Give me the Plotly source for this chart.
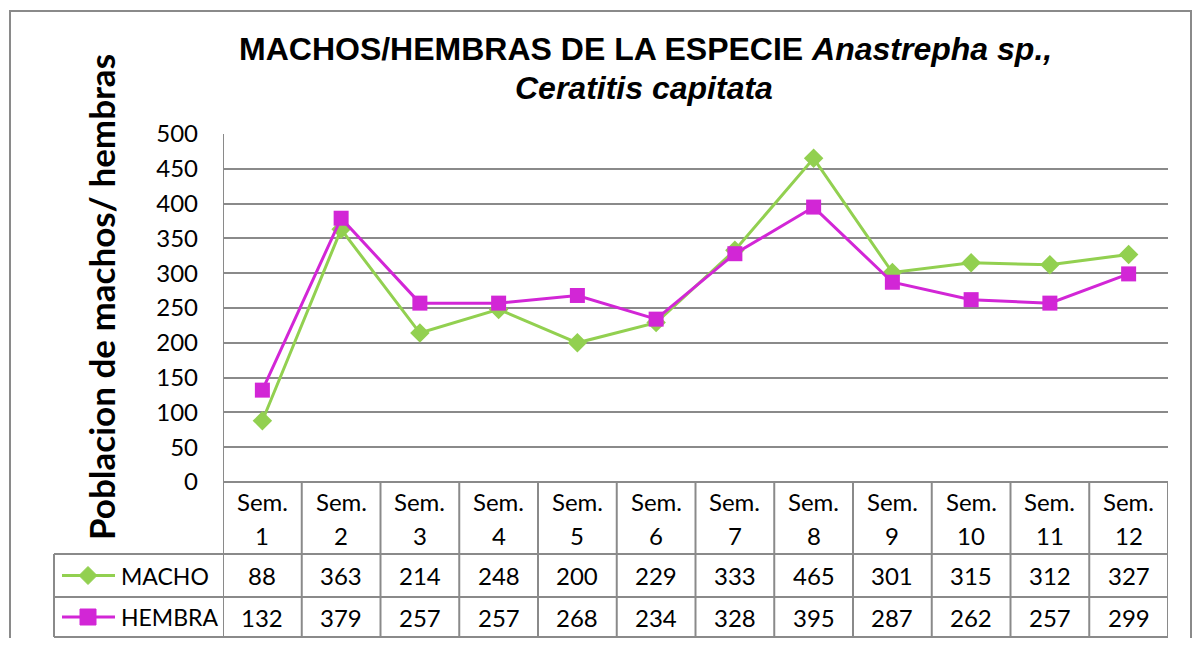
import plotly.graph_objects as go

semanas = ["Sem.<br>1", "Sem.<br>2", "Sem.<br>3", "Sem.<br>4", "Sem.<br>5", "Sem.<br>6",
           "Sem.<br>7", "Sem.<br>8", "Sem.<br>9", "Sem.<br>10", "Sem.<br>11", "Sem.<br>12"]
macho = [88, 363, 214, 248, 200, 229, 333, 465, 301, 315, 312, 327]
hembra = [132, 379, 257, 257, 268, 234, 328, 395, 287, 262, 257, 299]

# the page has an 8px body margin, so the figure is a bit smaller than the window
OFF = 8
W, H = 1200 - 2 * OFF, 646 - 2 * OFF
VERDE = "#92D050"
MAGENTA = "#D226D6"
GRIS = "#8A8A8A"
CALIBRI = "Lato, Noto Sans, sans-serif"


def px(x):
    return (x - OFF) / W


def py(y):
    return 1 - (y - OFF) / H


# plot area in window pixels
X0, X1, Y0, Y1 = 223, 1168, 134, 482
R1, R2, R3 = 554, 597, 637

fig = go.Figure()
xs = list(range(len(semanas)))
fig.add_trace(go.Scatter(x=xs, y=macho, mode="lines+markers", name="MACHO",
                         line=dict(color=VERDE, width=3),
                         marker=dict(symbol="diamond", size=15, color=VERDE)))
fig.add_trace(go.Scatter(x=xs, y=hembra, mode="lines+markers", name="HEMBRA",
                         line=dict(color=MAGENTA, width=3),
                         marker=dict(symbol="square", size=15, color=MAGENTA)))

shapes = []
ann = []


def hline(y, xa, xb):
    shapes.append(dict(type="line", xref="paper", yref="paper", x0=px(xa), x1=px(xb),
                       y0=py(y), y1=py(y), line=dict(color=GRIS, width=2)))


# table lines
hline(Y1, X0, X1)
for r in (R1, R2, R3):
    hline(r, 54, X1)
shapes.append(dict(type="line", xref="paper", yref="paper", x0=px(54), x1=px(54),
                   y0=py(R1), y1=py(R3), line=dict(color=GRIS, width=2)))
for k in range(len(semanas) + 1):
    shapes.append(dict(type="line", xref="x", yref="paper", x0=k - 0.5, x1=k - 0.5,
                       y0=py(Y1 if k else Y0), y1=py(R3), line=dict(color=GRIS, width=2)))

# outer border
shapes.append(dict(type="rect", xref="paper", yref="paper", x0=px(10), x1=px(1191),
                   y0=py(660), y1=py(11), line=dict(color=GRIS, width=2)))

# table text
fnt = dict(family=CALIBRI, size=24, color="black")
for i, s in enumerate(semanas):
    arriba, abajo = s.split("<br>")
    for texto, yc in ((arriba, 501), (abajo, 535), (str(macho[i]), (R1 + R2) / 2),
                      (str(hembra[i]), (R2 + R3) / 2)):
        ann.append(dict(x=i, y=py(yc), xref="x", yref="paper", text=texto,
                        xanchor="center", yanchor="middle", showarrow=False, font=fnt))

# legend keys in table
for nombre, color, fila, forma in (("MACHO", VERDE, (R1 + R2) / 2, "diamond"),
                                    ("HEMBRA", MAGENTA, (R2 + R3) / 2, "square")):
    shapes.append(dict(type="line", xref="paper", yref="paper", x0=px(62), x1=px(115),
                       y0=py(fila), y1=py(fila), line=dict(color=color, width=3)))
    if forma == "diamond":
        path = (f"M {px(88)},{py(fila - 9)} L {px(97)},{py(fila)} "
                f"L {px(88)},{py(fila + 9)} L {px(79)},{py(fila)} Z")
        shapes.append(dict(type="path", xref="paper", yref="paper", path=path,
                           fillcolor=color, line=dict(color=color, width=1)))
    else:
        shapes.append(dict(type="rect", xref="paper", yref="paper", x0=px(80), x1=px(96),
                           y0=py(fila + 8), y1=py(fila - 8), fillcolor=color,
                           line=dict(color=color, width=1)))
    ann.append(dict(x=px(119), y=py(fila), xref="paper", yref="paper", text=nombre,
                    xanchor="left", yanchor="middle", showarrow=False,
                    font=dict(family=CALIBRI, size=23, color="black")))

# y axis title
ann.append(dict(x=px(101), y=py(297), xref="paper", yref="paper",
                text="<b>Poblacion de machos/ hembras</b>", textangle=-90, showarrow=False,
                xanchor="center", yanchor="middle",
                font=dict(family=CALIBRI, size=35, color="black")))

# chart title, two lines
tfont = dict(family="Liberation Sans, Arial, sans-serif", size=32, color="black")
ann.append(dict(x=px(645), y=py(49), xref="paper", yref="paper",
                text="<b>MACHOS/HEMBRAS DE LA ESPECIE <i>Anastrepha sp.,</i></b>",
                showarrow=False, xanchor="center", yanchor="middle", font=tfont))
ann.append(dict(x=px(644), y=py(88), xref="paper", yref="paper",
                text="<b><i>Ceratitis capitata</i></b>",
                showarrow=False, xanchor="center", yanchor="middle", font=tfont))

fig.update_layout(
    width=W, height=H,
    margin=dict(l=0, r=0, t=0, b=0, autoexpand=False),
    paper_bgcolor="white", plot_bgcolor="white",
    showlegend=False,
    shapes=shapes, annotations=ann,
    xaxis=dict(domain=[px(X0), px(X1)], range=[-0.5, 11.5], showticklabels=False,
               showgrid=False, zeroline=False, showline=False, automargin=False),
    yaxis=dict(domain=[py(Y1), py(Y0)], range=[0, 500], dtick=50, showgrid=True,
               gridcolor=GRIS, gridwidth=2, zeroline=False, showline=False,
               ticks="", ticklabelstandoff=24, automargin=False,
               tickfont=dict(family=CALIBRI, size=24, color="black")),
)

fig.write_html("out.html")
